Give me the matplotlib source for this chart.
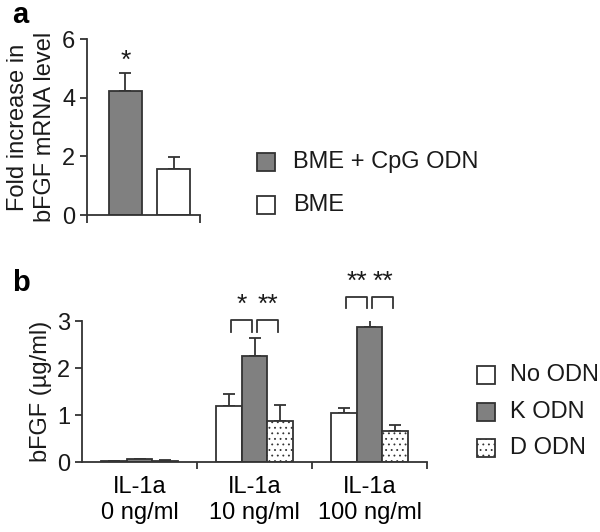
import numpy as np
import matplotlib as mpl
mpl.use('Agg')
import matplotlib.pyplot as plt

# Panel a data
aLabels = ['BME + CpG ODN', 'BME']
aValues = [4.23, 1.57]
aErrors = [0.62, 0.41]

# Panel b data
bGroups = ['IL-1a\n0 ng/ml', 'IL-1a\n10 ng/ml', 'IL-1a\n100 ng/ml']
bSeries = ['No ODN', 'K ODN', 'D ODN']
noOdn = [0.02, 1.19, 1.04]
noOdnErr = [0.01, 0.27, 0.12]
kOdn = [0.06, 2.25, 2.88]
kOdnErr = [0.02, 0.38, 0.25]
dOdn = [0.03, 0.88, 0.66]
dOdnErr = [0.01, 0.33, 0.13]

mpl.rcParams['font.family'] = ['Liberation Sans', 'DejaVu Sans']
mpl.rcParams['hatch.color'] = '#8a8a8a'
mpl.rcParams['hatch.linewidth'] = 0.6

edge = '#333333'
gray = '#808080'
txt = '#1a1a1a'
lw = 1.3
fs = 17

fig = plt.figure(figsize=(6.0, 5.32), dpi=100)


def styleAxes(ax):
    for s in ['top', 'right']:
        ax.spines[s].set_visible(False)
    for s in ['left', 'bottom']:
        ax.spines[s].set_linewidth(lw)
        ax.spines[s].set_color(edge)
    ax.tick_params(axis='both', direction='out', width=lw, length=5,
                   color=edge, labelsize=fs, labelcolor=txt)


# ---- panel a ----
axA = fig.add_axes([87 / 600, 1 - 215 / 532, 113 / 600, 176 / 532])
xa = np.arange(len(aValues))
axA.bar(xa, aValues, width=0.68, color=[gray, 'white'], edgecolor=edge,
        linewidth=lw, zorder=2)
axA.errorbar(xa, aValues, yerr=[[0, 0], aErrors], fmt='none', ecolor=edge,
             elinewidth=lw, capsize=4, capthick=lw, zorder=1)
axA.text(0, 5.25, '*', ha='center', va='center', fontsize=fs + 2, color=txt)
axA.set_xlim(-0.8, 1.55)
axA.set_ylim(0, 6)
axA.set_yticks([0, 2, 4, 6])
axA.set_xticks([-0.8, 1.55])
axA.set_xticklabels([])
axA.set_ylabel('Fold increase in\nbFGF mRNA level', fontsize=fs,
               color=txt, labelpad=4, linespacing=1.3)
styleAxes(axA)
axA.tick_params(axis='x', length=6)
fig.text(12 / 600, 1 - 15 / 532, 'a', fontsize=21, fontweight='bold',
         va='center', ha='left')

# legend a
aColors = [gray, 'white']
for i, (lab, c) in enumerate(zip(aLabels, aColors)):
    yy = 1 - (162 + 43 * i) / 532
    fig.patches.append(mpl.patches.Rectangle(
        (257 / 600, yy - 9 / 532), 18 / 600, 18 / 532,
        transform=fig.transFigure, facecolor=c, edgecolor=edge, linewidth=lw))
    fig.text(293 / 600, yy, lab, fontsize=fs, va='center', ha='left',
             color=txt)

# ---- panel b ----
axB = fig.add_axes([82 / 600, 1 - 462.3 / 532, 345 / 600, 141.3 / 532])
xb = np.arange(len(bGroups))
w = 0.226
vals = [noOdn, kOdn, dOdn]
errs = [noOdnErr, kOdnErr, dOdnErr]
faces = ['white', gray, 'white']
hatches = [None, None, '...']
for j in range(3):
    pos = xb + (j - 1) * w
    axB.bar(pos, vals[j], width=w, color=faces[j], edgecolor=edge,
            linewidth=lw, hatch=hatches[j], zorder=2)
    axB.errorbar(pos, vals[j], yerr=[np.zeros(3), errs[j]], fmt='none',
                 ecolor=edge, elinewidth=lw, capsize=4, capthick=lw, zorder=1)

# significance brackets
brackets = [(1, 0, 1, 3.02, '*'), (1, 1, 2, 3.02, '**'),
            (2, 0, 1, 3.52, '**'), (2, 1, 2, 3.52, '**')]
for g, a, b, yTop, star in brackets:
    x0 = g + (a - 1) * w + 0.02
    x1 = g + (b - 1) * w - 0.02
    axB.plot([x0, x0, x1, x1], [yTop - 0.25, yTop, yTop, yTop - 0.25],
             color=edge, lw=lw, clip_on=False)
    axB.text((x0 + x1) / 2, yTop + 0.06, star, ha='center', va='bottom',
             fontsize=fs + 2, color=txt, clip_on=False)

axB.set_xlim(-0.5, 2.5)
axB.set_ylim(0, 3)
axB.set_yticks([0, 1, 2, 3])
axB.set_xticks([0.5, 1.5, 2.5])
axB.set_xticklabels([])
axB.set_xticks(xb, minor=True)
axB.set_xticklabels(bGroups, minor=True)
axB.set_ylabel('bFGF (\u00b5g/ml)', fontsize=fs, color=txt, labelpad=4)
styleAxes(axB)
axB.tick_params(axis='x', which='minor', length=0, pad=10, labelsize=fs)
for t in axB.get_xticklabels(minor=True):
    t.set_linespacing(1.25)
fig.text(12 / 600, 1 - 283 / 532, 'b', fontsize=21, fontweight='bold',
         va='center', ha='left')

# legend b
for i, (lab, c, h) in enumerate(zip(bSeries, faces, hatches)):
    yy = 1 - (375 + 36.5 * i) / 532
    fig.patches.append(mpl.patches.Rectangle(
        (477 / 600, yy - 9 / 532), 18 / 600, 18 / 532,
        transform=fig.transFigure, facecolor=c, edgecolor=edge, linewidth=lw,
        hatch=h))
    fig.text(510 / 600, yy, lab, fontsize=fs, va='center', ha='left',
             color=txt)

fig.savefig('out.png', dpi=100)
